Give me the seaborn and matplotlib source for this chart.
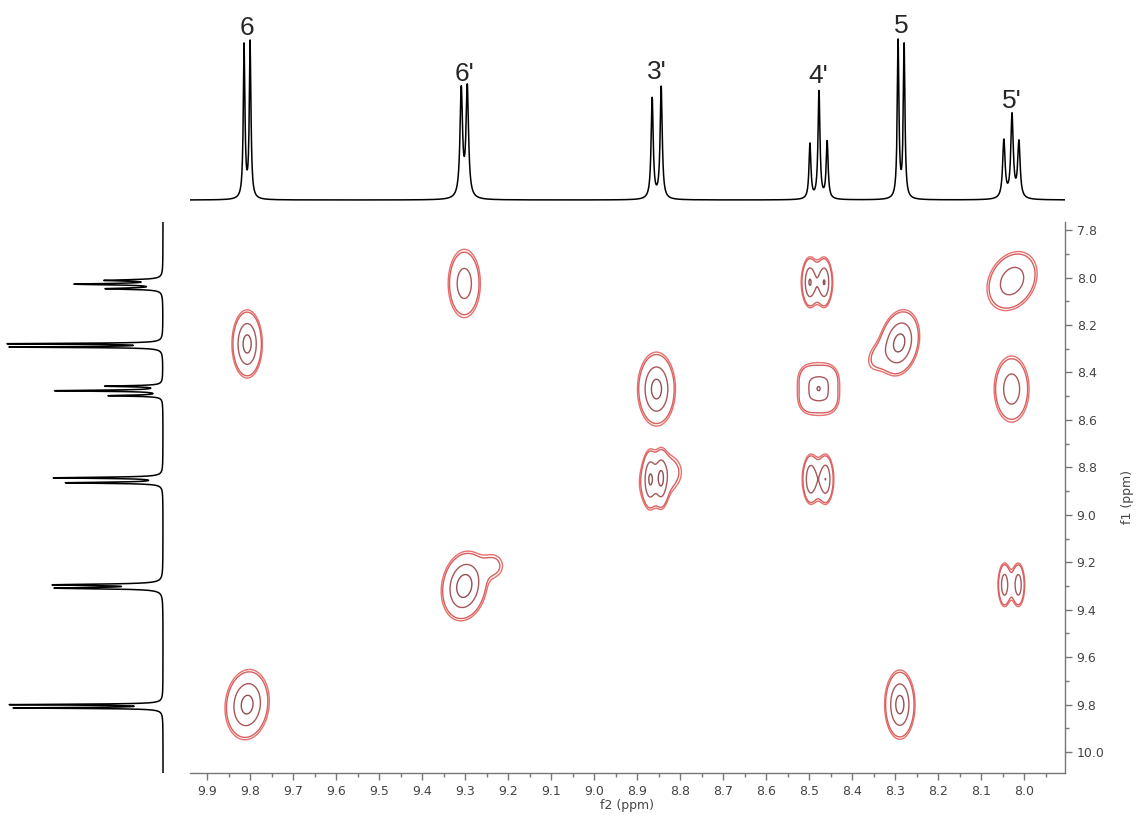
import numpy as np
import pandas as pd
import matplotlib
matplotlib.use('Agg')
import matplotlib.pyplot as plt
from matplotlib.ticker import MultipleLocator, FormatStrFormatter
import seaborn as sns

sns.set_style('white')
plt.rcParams['font.family'] = ['DejaVu Sans']

# 1D lines (ppm), shared by both projections
labels = ["6", "6'", "3'", "4'", "5", "5'"]
line_group = [0, 0, 1, 1, 2, 2, 3, 3, 3, 4, 4, 5, 5, 5]
line_shift = [9.814, 9.800, 9.309, 9.295, 8.865, 8.844, 8.498, 8.477, 8.458,
              8.293, 8.279, 8.047, 8.028, 8.012]
line_width = [0.0023, 0.0023, 0.0035, 0.0035, 0.0029, 0.0029, 0.0027, 0.0027,
              0.0027, 0.0023, 0.0023, 0.0034, 0.0034, 0.0034]
top_height = [153, 156, 108, 110, 101, 112, 55, 108, 57, 158, 154, 58, 83, 56]
left_height = [146, 150, 103, 105, 96, 108, 53, 107, 56, 151, 153, 55, 85, 55]

# 2D COSY components: f2, f1, amplitude, widths, tilt
cross_f2 = [9.807, 9.807, 9.302, 9.302, 9.235, 8.855, 8.870, 8.844, 8.856, 8.820,
            8.499, 8.464, 8.482, 8.478, 8.478, 8.452, 8.505, 8.452, 8.505,
            8.497, 8.461, 8.480, 8.290, 8.340, 8.289, 8.028, 8.029,
            8.046, 8.013, 8.030]
cross_f1 = [8.280, 9.800, 8.025, 9.300, 9.215, 8.470, 8.850, 8.850, 8.850, 8.820,
            8.020, 8.020, 8.020, 8.468, 8.470, 8.420, 8.520, 8.520, 8.420,
            8.850, 8.850, 8.850, 8.275, 8.335, 9.800, 8.015, 8.470,
            9.295, 9.295, 9.295]
cross_amp = [10.0, 10.0, 6.3, 11.0, 1.8, 10.0, 6.4, 6.4, 3.0, 1.4,
             6.3, 6.3, 3.5, 4.4, 4.2, 1.3, 1.3, 1.3, 1.3,
             5.9, 6.3, 3.4, 10.0, 1.7, 10.0, 6.6, 6.5,
             5.6, 5.6, 1.7]
cross_sx = [0.0165, 0.024, 0.0195, 0.0245, 0.020, 0.0206, 0.0085, 0.0085, 0.025, 0.022,
            0.008, 0.008, 0.020, 0.012, 0.028, 0.012, 0.012, 0.012, 0.012,
            0.008, 0.008, 0.020, 0.022, 0.020, 0.0165, 0.030, 0.021,
            0.0068, 0.0068, 0.019]
cross_sy = [0.067, 0.069, 0.075, 0.067, 0.040, 0.0726, 0.060, 0.060, 0.065, 0.050,
            0.050, 0.050, 0.055, 0.030, 0.065, 0.030, 0.030, 0.030, 0.030,
            0.050, 0.050, 0.055, 0.065, 0.045, 0.068, 0.064, 0.072,
            0.046, 0.046, 0.052]
cross_rho = [0.0, 0.1, 0.0, 0.15, 0.0, 0.0, 0.0, 0.0, 0.15, 0.0,
             0.0, 0.0, 0.0, 0.0, 0.0, 0.0, 0.0, 0.0, 0.0,
             0.0, 0.0, 0.0, 0.2, 0.3, 0.0, 0.25, 0.0,
             0.0, 0.0, 0.0]

levels = [1.0, 1.35, 4.4, 8.5]
level_colors = ['#e8706e', '#d65f5f', '#a8585a', '#935052']

# build spectra from the line lists
ppm = np.arange(7.74, 10.10, 0.0004)
spec = pd.DataFrame({'shift': line_shift, 'width': line_width,
                     'top': top_height, 'left': left_height, 'group': line_group})


def lorentz_sum(heights):
    y = np.zeros_like(ppm)
    for s, w, h in zip(spec['shift'], spec['width'], heights):
        y += h / (1 + ((ppm - s) / w) ** 2)
    return y


top_trace = lorentz_sum(spec['top'])
left_trace = lorentz_sum(spec['left'])

gx = np.arange(7.88, 9.96, 0.002)
gy = np.arange(7.74, 10.10, 0.003)
X, Y = np.meshgrid(gx, gy)
Z = np.zeros_like(X)
for x0, y0, a, sx, sy, r in zip(cross_f2, cross_f1, cross_amp, cross_sx, cross_sy, cross_rho):
    dx = (X - x0) / sx
    dy = (Y - y0) / sy
    Z += a * np.exp(-(dx ** 2 + dy ** 2 - 2 * r * dx * dy) / (2 * (1 - r ** 2)))

fig = plt.figure(figsize=(11.43, 8.21), dpi=100)
ax = fig.add_axes([0.1662, 0.0585, 0.7655, 0.6711])
ax_top = fig.add_axes([0.1662, 0.7442, 0.7655, 0.2436], sharex=ax)
ax_left = fig.add_axes([0.0, 0.0585, 0.1619, 0.6711], sharey=ax)

ax.contour(X, Y, Z, levels=levels, colors=level_colors, linewidths=1.0)
ax.set_xlim(9.94, 7.905)
ax.set_ylim(10.088, 7.766)

for side in ['top', 'left']:
    ax.spines[side].set_visible(False)
for side in ['bottom', 'right']:
    ax.spines[side].set_color('#777777')
    ax.spines[side].set_linewidth(1.0)
ax.yaxis.tick_right()
ax.yaxis.set_label_position('right')
ax.xaxis.set_major_locator(MultipleLocator(0.1))
ax.xaxis.set_minor_locator(MultipleLocator(0.05))
ax.yaxis.set_major_locator(MultipleLocator(0.2))
ax.yaxis.set_minor_locator(MultipleLocator(0.1))
ax.xaxis.set_major_formatter(FormatStrFormatter('%.1f'))
ax.yaxis.set_major_formatter(FormatStrFormatter('%.1f'))
ax.tick_params(which='major', direction='out', length=5, width=1, color='#777777',
               labelsize=9, labelcolor='#444444', bottom=True, right=True, left=False)
ax.tick_params(which='minor', direction='out', length=3, width=1, color='#777777',
               bottom=True, right=True, left=False)
ax.set_xlabel('f2 (ppm)', fontsize=9, color='#444444', labelpad=1)
ax.set_ylabel('f1 (ppm)', fontsize=9, color='#444444', labelpad=12)

sns.lineplot(x=ppm, y=top_trace, ax=ax_top, color='black', linewidth=1.1,
             sort=False, estimator=None)
ax_top.set_ylim(-10, 190)
ax_top.axis('off')
for g, lab in enumerate(labels):
    sub = spec[spec['group'] == g]
    ax_top.text(sub['shift'].mean(), sub['top'].max() + 16, lab, ha='center', va='center',
                fontsize=19, family=['Liberation Sans', 'DejaVu Sans'])

sns.lineplot(x=left_trace, y=ppm, ax=ax_left, color='black', linewidth=1.1,
             sort=False, estimator=None)
ax_left.set_xlim(163, -22)
ax_left.axis('off')

fig.savefig('out.png', dpi=100)
